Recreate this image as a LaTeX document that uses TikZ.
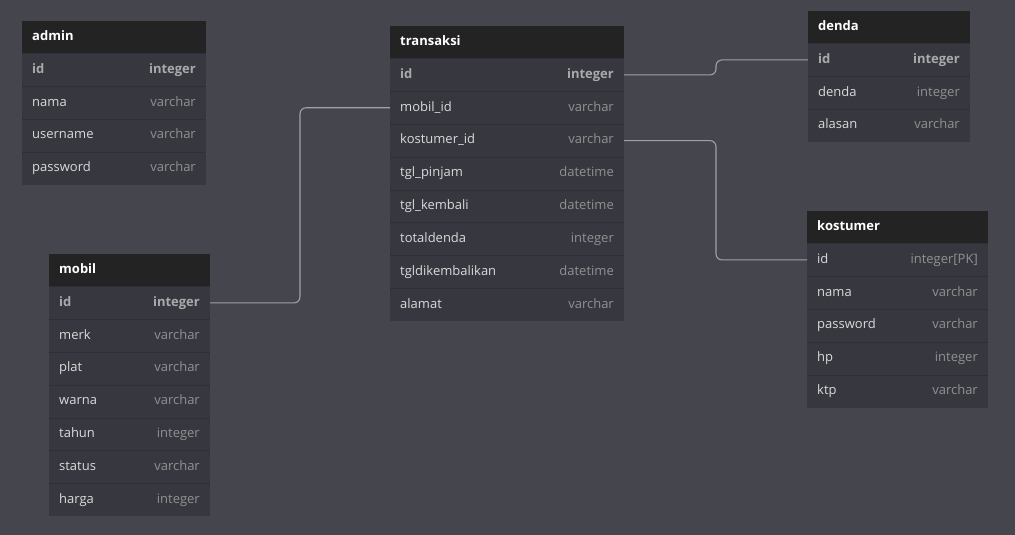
\documentclass[tikz,border=0pt]{standalone}
\usepackage{fontspec}
\setmainfont{Open Sans}
\definecolor{bgc}{RGB}{69,69,78}
\definecolor{bodyc}{RGB}{55,55,64}
\definecolor{sepc}{RGB}{47,47,55}
\definecolor{hdrc}{RGB}{35,35,35}
\definecolor{fieldc}{RGB}{218,218,218}
\definecolor{typec}{RGB}{145,145,145}
\definecolor{keytypec}{RGB}{170,170,170}
\definecolor{linec}{RGB}{160,160,170}
\newcommand\fs{\fontsize{13}{15}\selectfont}
\newcommand\erdhead[5]{%
  \node[hdr,minimum width=#4] (#1) at (#2,#3) {};
  \node[hdrtxt] at ([xshift=10pt]#1.west) {#5};}
\newcommand\erdrow[6]{%
  \node[rowbox,minimum width=#3] (#1) at (#2.south west) {};
  \draw[sepline] (#1.north west) -- (#1.north east);
  \node[fieldtxt,#6] at ([xshift=10pt]#1.west) {#4};
  \node[typetxt,#6] at ([xshift=-10pt]#1.east) {#5};}
\tikzset{
  hdr/.style={anchor=north west,fill=hdrc,minimum height=32.5pt,inner sep=0pt,outer sep=0pt,draw=none},
  rowbox/.style={anchor=north west,fill=bodyc,minimum height=32.85pt,inner sep=0pt,outer sep=0pt,draw=none},
  sepline/.style={draw=sepc,line width=0.8pt},
  hdrtxt/.style={anchor=west,inner sep=0pt,text height=9pt,text depth=2.5pt,text=white,font=\fs\bfseries},
  fieldtxt/.style={anchor=west,inner sep=0pt,text height=9pt,text depth=2.5pt,text=fieldc,font=\fs},
  typetxt/.style={anchor=east,inner sep=0pt,text height=9pt,text depth=2.5pt,text=typec,font=\fs},
  keyb/.style={font=\fs\bfseries,text=keytypec},
  plain/.style={},
  conn/.style={draw=linec,line width=1.1pt,rounded corners=6pt},
}
\begin{document}
\begin{tikzpicture}[x=1pt,y=-1pt]
\fill[bgc] (0,0) rectangle (1015,535);
\useasboundingbox (0,0) rectangle (1015,535);
% admin
\erdhead{ad}{22}{21}{184}{admin}
\erdrow{ad-id}{ad}{184}{id}{integer}{keyb}
\erdrow{ad-nama}{ad-id}{184}{nama}{varchar}{plain}
\erdrow{ad-user}{ad-nama}{184}{username}{varchar}{plain}
\erdrow{ad-pass}{ad-user}{184}{password}{varchar}{plain}
% transaksi
\erdhead{tr}{390}{26}{234}{transaksi}
\erdrow{tr-id}{tr}{234}{id}{integer}{keyb}
\erdrow{tr-mobil}{tr-id}{234}{mobil\_id}{varchar}{plain}
\erdrow{tr-kost}{tr-mobil}{234}{kostumer\_id}{varchar}{plain}
\erdrow{tr-pinjam}{tr-kost}{234}{tgl\_pinjam}{datetime}{plain}
\erdrow{tr-kembali}{tr-pinjam}{234}{tgl\_kembali}{datetime}{plain}
\erdrow{tr-total}{tr-kembali}{234}{totaldenda}{integer}{plain}
\erdrow{tr-tgldk}{tr-total}{234}{tgldikembalikan}{datetime}{plain}
\erdrow{tr-alamat}{tr-tgldk}{234}{alamat}{varchar}{plain}
% denda
\erdhead{de}{808}{11}{162}{denda}
\erdrow{de-id}{de}{162}{id}{integer}{keyb}
\erdrow{de-denda}{de-id}{162}{denda}{integer}{plain}
\erdrow{de-alasan}{de-denda}{162}{alasan}{varchar}{plain}
% kostumer
\erdhead{ko}{807}{211}{181}{kostumer}
\erdrow{ko-id}{ko}{181}{id}{integer[PK]}{plain}
\erdrow{ko-nama}{ko-id}{181}{nama}{varchar}{plain}
\erdrow{ko-pass}{ko-nama}{181}{password}{varchar}{plain}
\erdrow{ko-hp}{ko-pass}{181}{hp}{integer}{plain}
\erdrow{ko-ktp}{ko-hp}{181}{ktp}{varchar}{plain}
% mobil
\erdhead{mo}{49}{254}{161}{mobil}
\erdrow{mo-id}{mo}{161}{id}{integer}{keyb}
\erdrow{mo-merk}{mo-id}{161}{merk}{varchar}{plain}
\erdrow{mo-plat}{mo-merk}{161}{plat}{varchar}{plain}
\erdrow{mo-warna}{mo-plat}{161}{warna}{varchar}{plain}
\erdrow{mo-tahun}{mo-warna}{161}{tahun}{integer}{plain}
\erdrow{mo-status}{mo-tahun}{161}{status}{varchar}{plain}
\erdrow{mo-harga}{mo-status}{161}{harga}{integer}{plain}
% connectors
\draw[conn] (tr-id.east) -- ++(92,0) |- (de-id.west);
\draw[conn] (tr-kost.east) -- ++(92,0) |- (ko-id.west);
\draw[conn] (mo-id.east) -- ++(90,0) |- (tr-mobil.west);
\end{tikzpicture}
\end{document}
